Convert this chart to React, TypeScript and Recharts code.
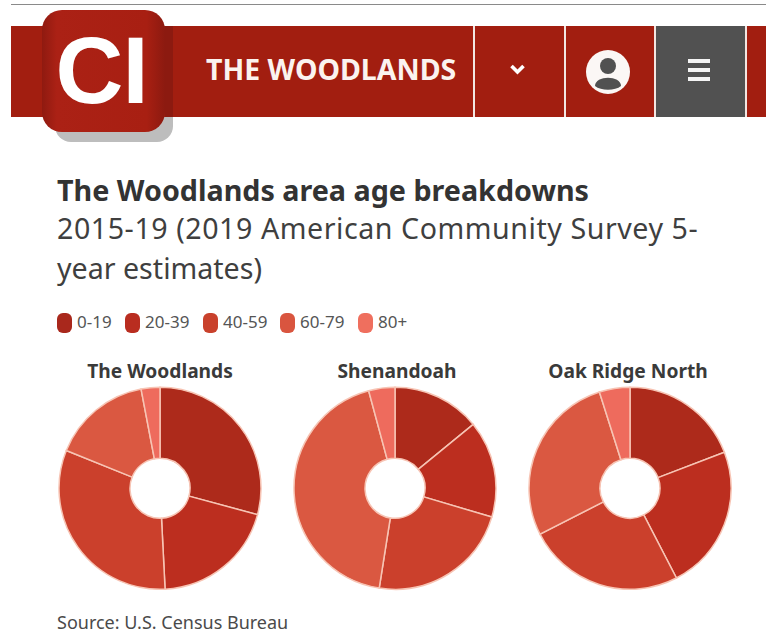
import React from "react";
import { PieChart, Pie, Cell } from "recharts";

const ageGroups = ["0-19", "20-39", "40-59", "60-79", "80+"];
const sliceColors = ["#ad2a1b", "#bc2e1f", "#cb402c", "#da5841", "#ee6b5d"];
const legendColors = ["#a9281c", "#b92d20", "#c9412c", "#d9553f", "#ef6f5e"];

const woodlandsShares = [29.2, 20.0, 31.9, 15.9, 3.0];
const shenandoahShares = [14.1, 15.5, 22.9, 43.3, 4.2];
const oakRidgeShares = [19.2, 23.2, 25.1, 27.6, 4.9];

const places = [
  { name: "The Woodlands", shares: woodlandsShares, cx: 160, titleX: 160 },
  { name: "Shenandoah", shares: shenandoahShares, cx: 395, titleX: 397 },
  { name: "Oak Ridge North", shares: oakRidgeShares, cx: 630, titleX: 628 },
];

const legendX = [57, 125, 203, 280, 358];
const font = "'Noto Sans', sans-serif";
const ink = "#3f3f3f";
const cellStroke = "#f7c4b4";

const abs = (left: number, top: number, width: number, height: number): React.CSSProperties => ({
  position: "absolute",
  left,
  top,
  width,
  height,
});

function Header() {
  return (
    <>
      <div style={{ ...abs(11, 4, 755, 1), background: "#8a8a8a" }} />
      {/* the logo's drop shadow sits behind the band, so it only shows underneath */}
      <div style={{ ...abs(55, 24, 118, 118), background: "#bdbdbd", borderRadius: 16 }} />
      <div style={{ ...abs(11, 26, 755, 91), background: "#a21e10" }} />
      <div style={{ ...abs(655, 26, 90, 91), background: "#515151" }} />
      {[473, 564, 654, 745].map((x) => (
        <div key={x} style={{ ...abs(x, 26, 1.5, 91), background: "#f3e6e2" }} />
      ))}
      <div style={{ ...abs(165, 26, 8, 91), background: "#8c1a10" }} />
      <div
        style={{
          ...abs(42, 10, 123, 122),
          background: "linear-gradient(90deg,#8f1a10 0%,#ab2115 12%,#a81f12 85%,#8c1a10 100%)",
          borderRadius: 20,
        }}
      />
      <div
        style={{
          ...abs(40, 10, 123, 122),
          color: "#fff",
          fontFamily: "'Liberation Sans', sans-serif",
          fontWeight: 700,
          fontSize: 94,
          lineHeight: "122px",
          textAlign: "center",
          letterSpacing: -1,
        }}
      >
        CI
      </div>
      <div
        style={{
          ...abs(206, 50, 262, 38),
          color: "#fbf3ef",
          fontFamily: font,
          fontWeight: 700,
          fontSize: 28.5,
          lineHeight: "38px",
          whiteSpace: "nowrap",
        }}
      >
        THE WOODLANDS
      </div>
      <svg style={abs(473, 26, 290, 91)} viewBox="0 0 290 91">
        <path d="M38.5 40 L44.5 46 L50.5 40" fill="none" stroke="#fff" strokeWidth={3.6} />
        <circle cx={135} cy={46} r={22} fill="#fbf7f5" />
        <circle cx={135} cy={40} r={8} fill="#515151" />
        <path d="M122 60 C122 49 148 49 148 60 C142 65 128 65 122 60 Z" fill="#515151" />
        <rect x={215} y={33} width={22} height={4} fill="#f4f4f4" />
        <rect x={215} y={42} width={22} height={4} fill="#f4f4f4" />
        <rect x={215} y={51} width={22} height={4} fill="#f4f4f4" />
      </svg>
    </>
  );
}

function Titles() {
  const sub: React.CSSProperties = {
    color: ink,
    fontFamily: font,
    fontSize: 28.6,
    lineHeight: "40px",
    whiteSpace: "nowrap",
  };
  return (
    <>
      <div style={{ ...sub, ...abs(57, 170, 640, 40), fontWeight: 700, fontSize: 28.7, color: "#333" }}>
        The Woodlands area age breakdowns
      </div>
      <div style={{ ...sub, ...abs(57, 208, 680, 40), letterSpacing: 0.55 }}>
        2015-19 (2019 American Community Survey 5-
      </div>
      <div style={{ ...sub, ...abs(57, 248, 300, 40) }}>year estimates)</div>
    </>
  );
}

function AgeLegend() {
  return (
    <>
      {ageGroups.map((group, i) => (
        <React.Fragment key={group}>
          <div
            style={{
              ...abs(legendX[i], 313, 15, 20),
              background: legendColors[i],
              borderRadius: 6,
            }}
          />
          <div
            style={{
              ...abs(legendX[i] + 20, 311, 58, 22),
              color: "#555",
              fontFamily: font,
              fontSize: 17,
              lineHeight: "22px",
            }}
          >
            {group}
          </div>
        </React.Fragment>
      ))}
    </>
  );
}

export default function App() {
  return (
    <div style={{ ...abs(0, 0, 766, 633), background: "#fff", overflow: "hidden" }}>
      <Header />
      <Titles />
      <AgeLegend />
      {places.map((place) => (
        <div
          key={place.name}
          style={{
            ...abs(place.titleX - 110, 358, 220, 26),
            color: "#3a3a3a",
            fontFamily: font,
            fontWeight: 700,
            fontSize: 19.2,
            lineHeight: "26px",
            textAlign: "center",
          }}
        >
          {place.name}
        </div>
      ))}
      <div style={abs(0, 380, 766, 215)}>
        <PieChart width={766} height={215} margin={{ top: 0, right: 0, bottom: 0, left: 0 }}>
          {places.map((place) => (
            <Pie
              key={place.name}
              data={ageGroups.map((group, i) => ({ group, share: place.shares[i] }))}
              dataKey="share"
              nameKey="group"
              cx={place.cx}
              cy={108.3}
              innerRadius={30}
              outerRadius={101}
              startAngle={90}
              endAngle={-270}
              stroke={cellStroke}
              strokeWidth={1.5}
              isAnimationActive={false}
            >
              {ageGroups.map((group, i) => (
                <Cell key={group} fill={sliceColors[i]} />
              ))}
            </Pie>
          ))}
        </PieChart>
      </div>
      <div
        style={{
          ...abs(57, 610, 300, 24),
          color: "#4a4a4a",
          fontFamily: font,
          fontSize: 18,
          lineHeight: "24px",
          whiteSpace: "nowrap",
        }}
      >
        Source: U.S. Census Bureau
      </div>
    </div>
  );
}
